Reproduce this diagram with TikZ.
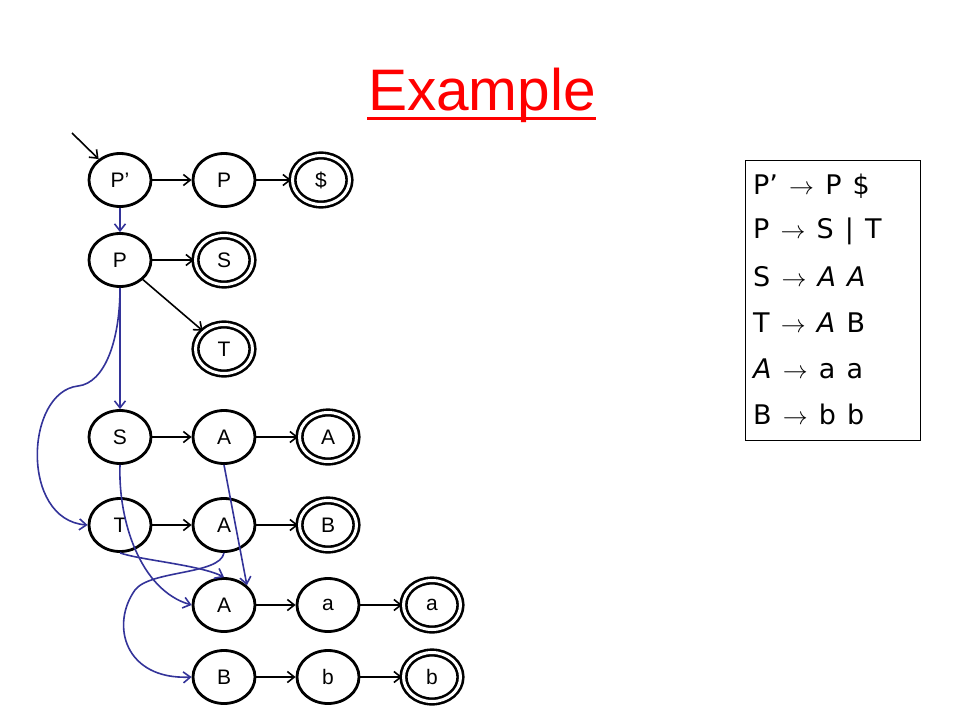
\documentclass[tikz,border=0pt]{standalone}
\usepackage{fontspec}
\setmainfont{Liberation Sans}
\newfontfamily\gramfont[WordSpace=1.3]{DejaVu Sans}
\usetikzlibrary{arrows.meta,shapes.geometric}
\definecolor{titlered}{RGB}{255,0,0}
\definecolor{linkblue}{RGB}{51,51,153}
\newcommand{\garr}{{\fontsize{30}{30}\selectfont$\rightarrow$}}
\tikzset{
  st/.style={ellipse,draw=black,line width=2.8pt,minimum width=62pt,minimum height=53pt,inner sep=0pt,font=\fontsize{21}{21}\selectfont},
  fin/.style={st,double=white,double distance=3pt,line width=2.6pt,minimum width=57pt,minimum height=49pt},
  tr/.style={draw=black,line width=1.6pt,-{Straight Barb[length=7pt,width=11pt]}},
  bl/.style={draw=linkblue,line width=1.6pt,-{Straight Barb[length=7pt,width=11pt]}},
}
\begin{document}
\begin{tikzpicture}[x=1pt,y=-1pt]
\useasboundingbox (0,0) rectangle (960,720);
% title
\node[anchor=base,text=titlered,font=\fontsize{58.6}{60}\selectfont,inner sep=0pt] (title) at (482,110) {Example};
\draw[titlered,line width=3pt] (367,118) -- (596,118);
% states
\node[st] (Pp) at (120,180) {P’};
\node[st] (P1) at (224,180) {P};
\node[fin] (D) at (321,180) {\$};
\node[st] (P2) at (120,260) {P};
\node[fin] (S1) at (224,260) {S};
\node[fin] (T1) at (224,349) {T};
\node[st] (S2) at (120,437) {S};
\node[st] (A1) at (224,437) {A};
\node[fin] (A2) at (328,437) {A};
\node[st] (T2) at (120,525) {T};
\node[st] (A3) at (224,525) {A};
\node[fin] (B1) at (328,525) {B};
\node[st] (A4) at (224,605) {A};
\node[st] (a1) at (328,605) {a};
\node[fin] (a2) at (432,605) {a};
\node[st] (B2) at (224,677) {B};
\node[st] (b1) at (328,677) {b};
\node[fin] (b2) at (432,677) {b};
% start
\coordinate (start) at (72,133);
\draw[tr] (start) -- (Pp);
% black transitions
\draw[tr] (Pp) -- (P1);
\draw[tr] (P1) -- (D);
\draw[tr] (P2) -- (S1);
\draw[tr] (P2) -- (T1);
\draw[tr] (S2) -- (A1);
\draw[tr] (A1) -- (A2);
\draw[tr] (T2) -- (A3);
\draw[tr] (A3) -- (B1);
\draw[tr] (A4) -- (a1);
\draw[tr] (a1) -- (a2);
\draw[tr] (B2) -- (b1);
\draw[tr] (b1) -- (b2);
% blue links
\draw[bl] (Pp.south) -- (P2.north);
\draw[bl] (P2.south) -- (S2.north);
\draw[bl] (P2.south) .. controls (120,340) and (105,383) .. (78,386)
   .. controls (25,392) and (20,520) .. (T2.west);
\draw[bl] (S2.south) .. controls (118,520) and (140,590) .. (A4.west);
\draw[bl] (A1.south) -- (A4.north east);
\draw[bl] (T2.south) .. controls (140,560) and (200,565) .. (A4.north);
\draw[bl] (A3.south) .. controls (220,575) and (150,570) .. (135,590)
   .. controls (110,625) and (125,680) .. (B2.west);
% grammar
\node[draw=black,line width=1pt,minimum width=175pt,minimum height=280pt,anchor=north west,inner sep=0pt] (box) at (745,160) {};
\begin{scope}[every node/.style={anchor=west,inner sep=0pt,font=\gramfont\fontsize{27}{27}\selectfont}]
\node (g1) at (753,186) {P’ \garr{} P \$};
\node (g2) at (753,231) {P \garr{} S | T};
\node (g3) at (753,277) {S \garr{} \textit{A A}};
\node (g4) at (753,323) {T \garr{} \textit{A} B};
\node (g5) at (753,369) {\textit{A} \garr{} a a};
\node (g6) at (753,414) {B \garr{} b b};
\end{scope}
\end{tikzpicture}
\end{document}
